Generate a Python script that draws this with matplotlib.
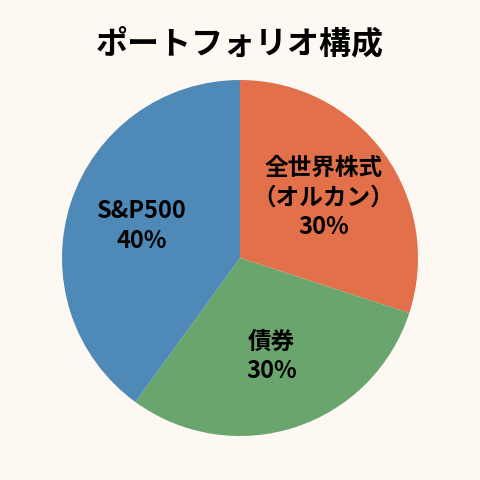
import matplotlib.pyplot as plt

plt.rcParams['font.family'] = ['Noto Sans CJK JP', 'DejaVu Sans']

labels = ['全世界株式\n（オルカン）\n30%', '債券\n30%', 'S&P500\n40%']
shares = [30, 30, 40]
colors = ['#e2704a', '#6aa56e', '#4e89b8']
bg = '#fdf9f2'

fig = plt.figure(figsize=(4.8, 4.8), dpi=100, facecolor=bg)
ax = fig.add_axes([62 / 480, 44 / 480, 356 / 480, 356 / 480])
ax.set_facecolor(bg)

ax.pie(shares, labels=labels, colors=colors, startangle=90, counterclock=False,
       labeldistance=0.58, wedgeprops=dict(linewidth=0),
       textprops=dict(fontsize=17, fontweight='bold', ha='center', va='center',
                      linespacing=1.3))
ax.set_xlim(-1, 1)
ax.set_ylim(-1, 1)
ax.set_aspect('equal')

fig.text(0.5, 0.905, 'ポートフォリオ構成', ha='center', va='center',
         fontsize=23, fontweight='bold')

fig.savefig('out.png', dpi=100, facecolor=bg)
